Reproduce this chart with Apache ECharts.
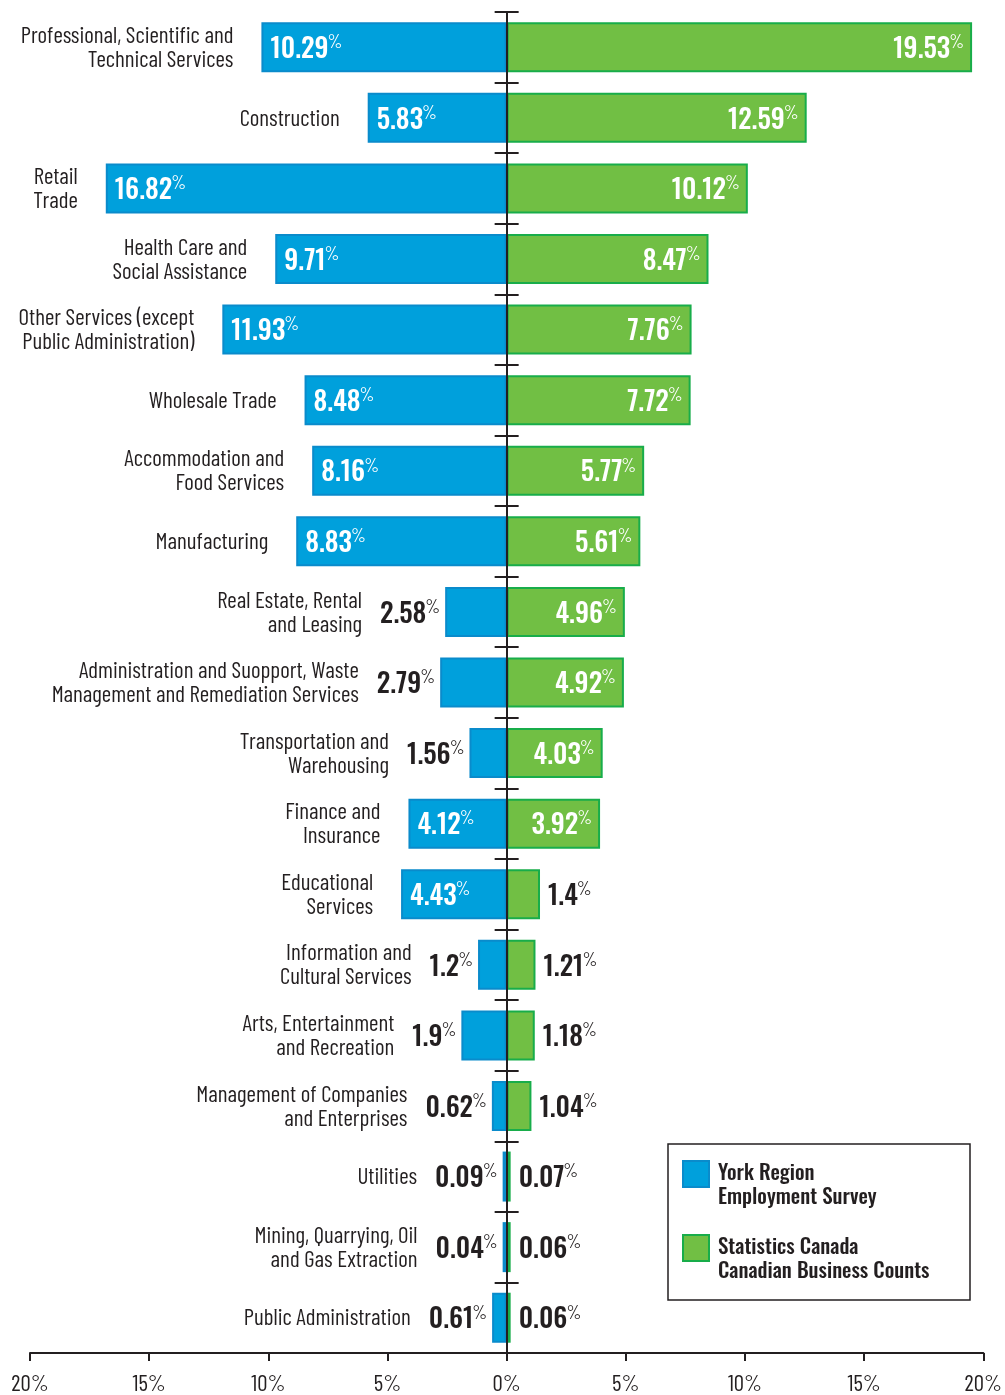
<!DOCTYPE html>
<html>
<head>
<meta charset="utf-8">
<script src="https://cdn.jsdelivr.net/npm/echarts@6/dist/echarts.min.js"></script>
<style>
html,body{margin:0;padding:0;background:#fff;}
#chart{width:1005px;height:1395px;}
</style>
</head>
<body>
<div id="chart"></div>
<script>
const categories = [
  "Professional, Scientific and\nTechnical Services",
  "Construction",
  "Retail\nTrade",
  "Health Care and\nSocial Assistance",
  "Other Services (except\nPublic Administration)",
  "Wholesale Trade",
  "Accommodation and\nFood Services",
  "Manufacturing",
  "Real Estate, Rental\nand Leasing",
  "Administration and Suopport, Waste\nManagement and Remediation Services",
  "Transportation and\nWarehousing",
  "Finance and\nInsurance",
  "Educational\nServices",
  "Information and\nCultural Services",
  "Arts, Entertainment\nand Recreation",
  "Management of Companies\nand Enterprises",
  "Utilities",
  "Mining, Quarrying, Oil\nand Gas Extraction",
  "Public Administration"
];
const yorkValues = [10.29, 5.83, 16.82, 9.71, 11.93, 8.48, 8.16, 8.83, 2.58, 2.79, 1.56, 4.12, 4.43, 1.2, 1.9, 0.62, 0.09, 0.04, 0.61];
const canadaValues = [19.53, 12.59, 10.12, 8.47, 7.76, 7.72, 5.77, 5.61, 4.96, 4.92, 4.03, 3.92, 1.4, 1.21, 1.18, 1.04, 0.07, 0.06, 0.06];
const seriesNames = ["York Region\nEmployment Survey", "Statistics Canada\nCanadian Business Counts"];

const LABEL_FONT = "'Barlow Condensed', 'Roboto Condensed', 'DejaVu Sans Condensed', sans-serif";
const VALUE_FONT = "'Oswald', 'Barlow Condensed', 'Roboto Condensed', sans-serif";
const DARK = '#231F20';
const VAL_SIZE = 27, PCT_SIZE = 19;
const INSIDE_MIN = 3;

const ctx = document.createElement('canvas').getContext('2d');
function textW(font, s) { ctx.font = font; return ctx.measureText(s).width; }
function labelWidth(v) {
  return textW('500 ' + VAL_SIZE + 'px ' + VALUE_FONT, String(v)) + textW(PCT_SIZE + 'px ' + LABEL_FONT, '%') - 1;
}

function valueRich(color) {
  return {
    v: {fontFamily: VALUE_FONT, fontWeight: 500, fontSize: VAL_SIZE, color: color, lineHeight: 32, verticalAlign: 'bottom'},
    p: {fontFamily: LABEL_FONT, fontSize: PCT_SIZE, color: color, lineHeight: 32, verticalAlign: 'top', padding: [1, 0, 0, -1]}
  };
}
function valueFmt(p) { return '{v|' + Math.abs(p.value) + '}{p|%}'; }

const yorkData = yorkValues.map(v => {
  const inside = v > INSIDE_MIN;
  return {
    value: -v,
    label: {
      position: inside ? 'insideLeft' : 'left',
      distance: inside ? 9 : 5,
      rich: valueRich(inside ? '#fff' : DARK)
    }
  };
});
const canadaData = canadaValues.map(v => {
  const inside = v > INSIDE_MIN;
  return {
    value: v,
    label: {
      position: inside ? 'insideRight' : 'right',
      distance: 8,
      rich: valueRich(inside ? '#fff' : DARK)
    }
  };
});
const nameData = yorkValues.map(v => ({
  value: -v,
  label: {distance: v > INSIDE_MIN ? 28 : 5 + labelWidth(v) + 18}
}));

const LEGEND_SIZE = 21;
const legendTextW = Math.max.apply(null, seriesNames.join('\n').split('\n').map(s => textW('500 ' + LEGEND_SIZE + 'px ' + VALUE_FONT, s)));
const legendRightPad = Math.max(6, 969 - 717 - legendTextW);

const chart = echarts.init(document.getElementById('chart'), null, {renderer: 'canvas'});
const yAxisBase = {
  type: 'category',
  data: categories,
  inverse: true,
  z: 10,
  axisLabel: {show: false},
  splitLine: {show: false}
};
chart.setOption({
  animation: false,
  backgroundColor: '#fff',
  grid: {left: 30, right: 20, top: 12, bottom: 42, containLabel: false},
  xAxis: {
    type: 'value', min: -20, max: 20, interval: 5,
    axisLine: {show: true, lineStyle: {color: DARK, width: 2}},
    axisTick: {show: true, length: 8, lineStyle: {color: DARK, width: 2}},
    splitLine: {show: false},
    axisLabel: {
      margin: 19, fontFamily: LABEL_FONT, fontSize: 23, color: DARK,
      formatter: v => Math.abs(v) + '%'
    }
  },
  yAxis: [
    Object.assign({}, yAxisBase, {
      position: 'left',
      axisLine: {show: true, onZero: true, onZeroAxisIndex: 0, lineStyle: {color: DARK, width: 2}},
      axisTick: {show: true, length: 12, inside: false, lineStyle: {color: DARK, width: 2}}
    }),
    Object.assign({}, yAxisBase, {
      position: 'right',
      axisLine: {show: true, onZero: true, onZeroAxisIndex: 0, lineStyle: {color: DARK, width: 2}},
      axisTick: {show: true, length: 12, inside: false, lineStyle: {color: DARK, width: 2}}
    })
  ],
  legend: {
    orient: 'vertical',
    left: 668, top: 1144,
    data: seriesNames,
    icon: 'path://M0,0L26,0L26,26L0,26Z M0,50',
    itemWidth: 26, itemHeight: 50, itemGap: 22,
    padding: [16, legendRightPad, 14, 14],
    borderColor: DARK, borderWidth: 1.5,
    selectedMode: false,
    textStyle: {fontFamily: VALUE_FONT, fontWeight: 500, fontSize: LEGEND_SIZE, lineHeight: 24, color: DARK, padding: [0, 0, 0, 4]}
  },
  series: [
    {
      name: seriesNames[0], type: 'bar', yAxisIndex: 0,
      data: yorkData, barWidth: 50, barGap: '-100%', barMinHeight: 4,
      itemStyle: {color: '#00A0DC', borderColor: '#0A8BCB', borderWidth: 2},
      label: {show: true, formatter: valueFmt},
      z: 2
    },
    {
      name: seriesNames[1], type: 'bar', yAxisIndex: 0,
      data: canadaData, barWidth: 50, barGap: '-100%', barMinHeight: 4,
      itemStyle: {color: '#71BF44', borderColor: '#18AD4A', borderWidth: 2},
      label: {show: true, formatter: valueFmt},
      z: 2
    },
    {
      name: 'names', type: 'bar', yAxisIndex: 0, silent: true,
      data: nameData, barWidth: 50, barGap: '-100%', barMinHeight: 4,
      itemStyle: {color: 'rgba(0,0,0,0)'},
      label: {
        show: true, position: 'left',
        formatter: p => categories[p.dataIndex],
        fontFamily: LABEL_FONT, fontSize: 23, lineHeight: 24, color: DARK, align: 'right'
      },
      z: 1
    }
  ]
});
</script>
</body>
</html>
